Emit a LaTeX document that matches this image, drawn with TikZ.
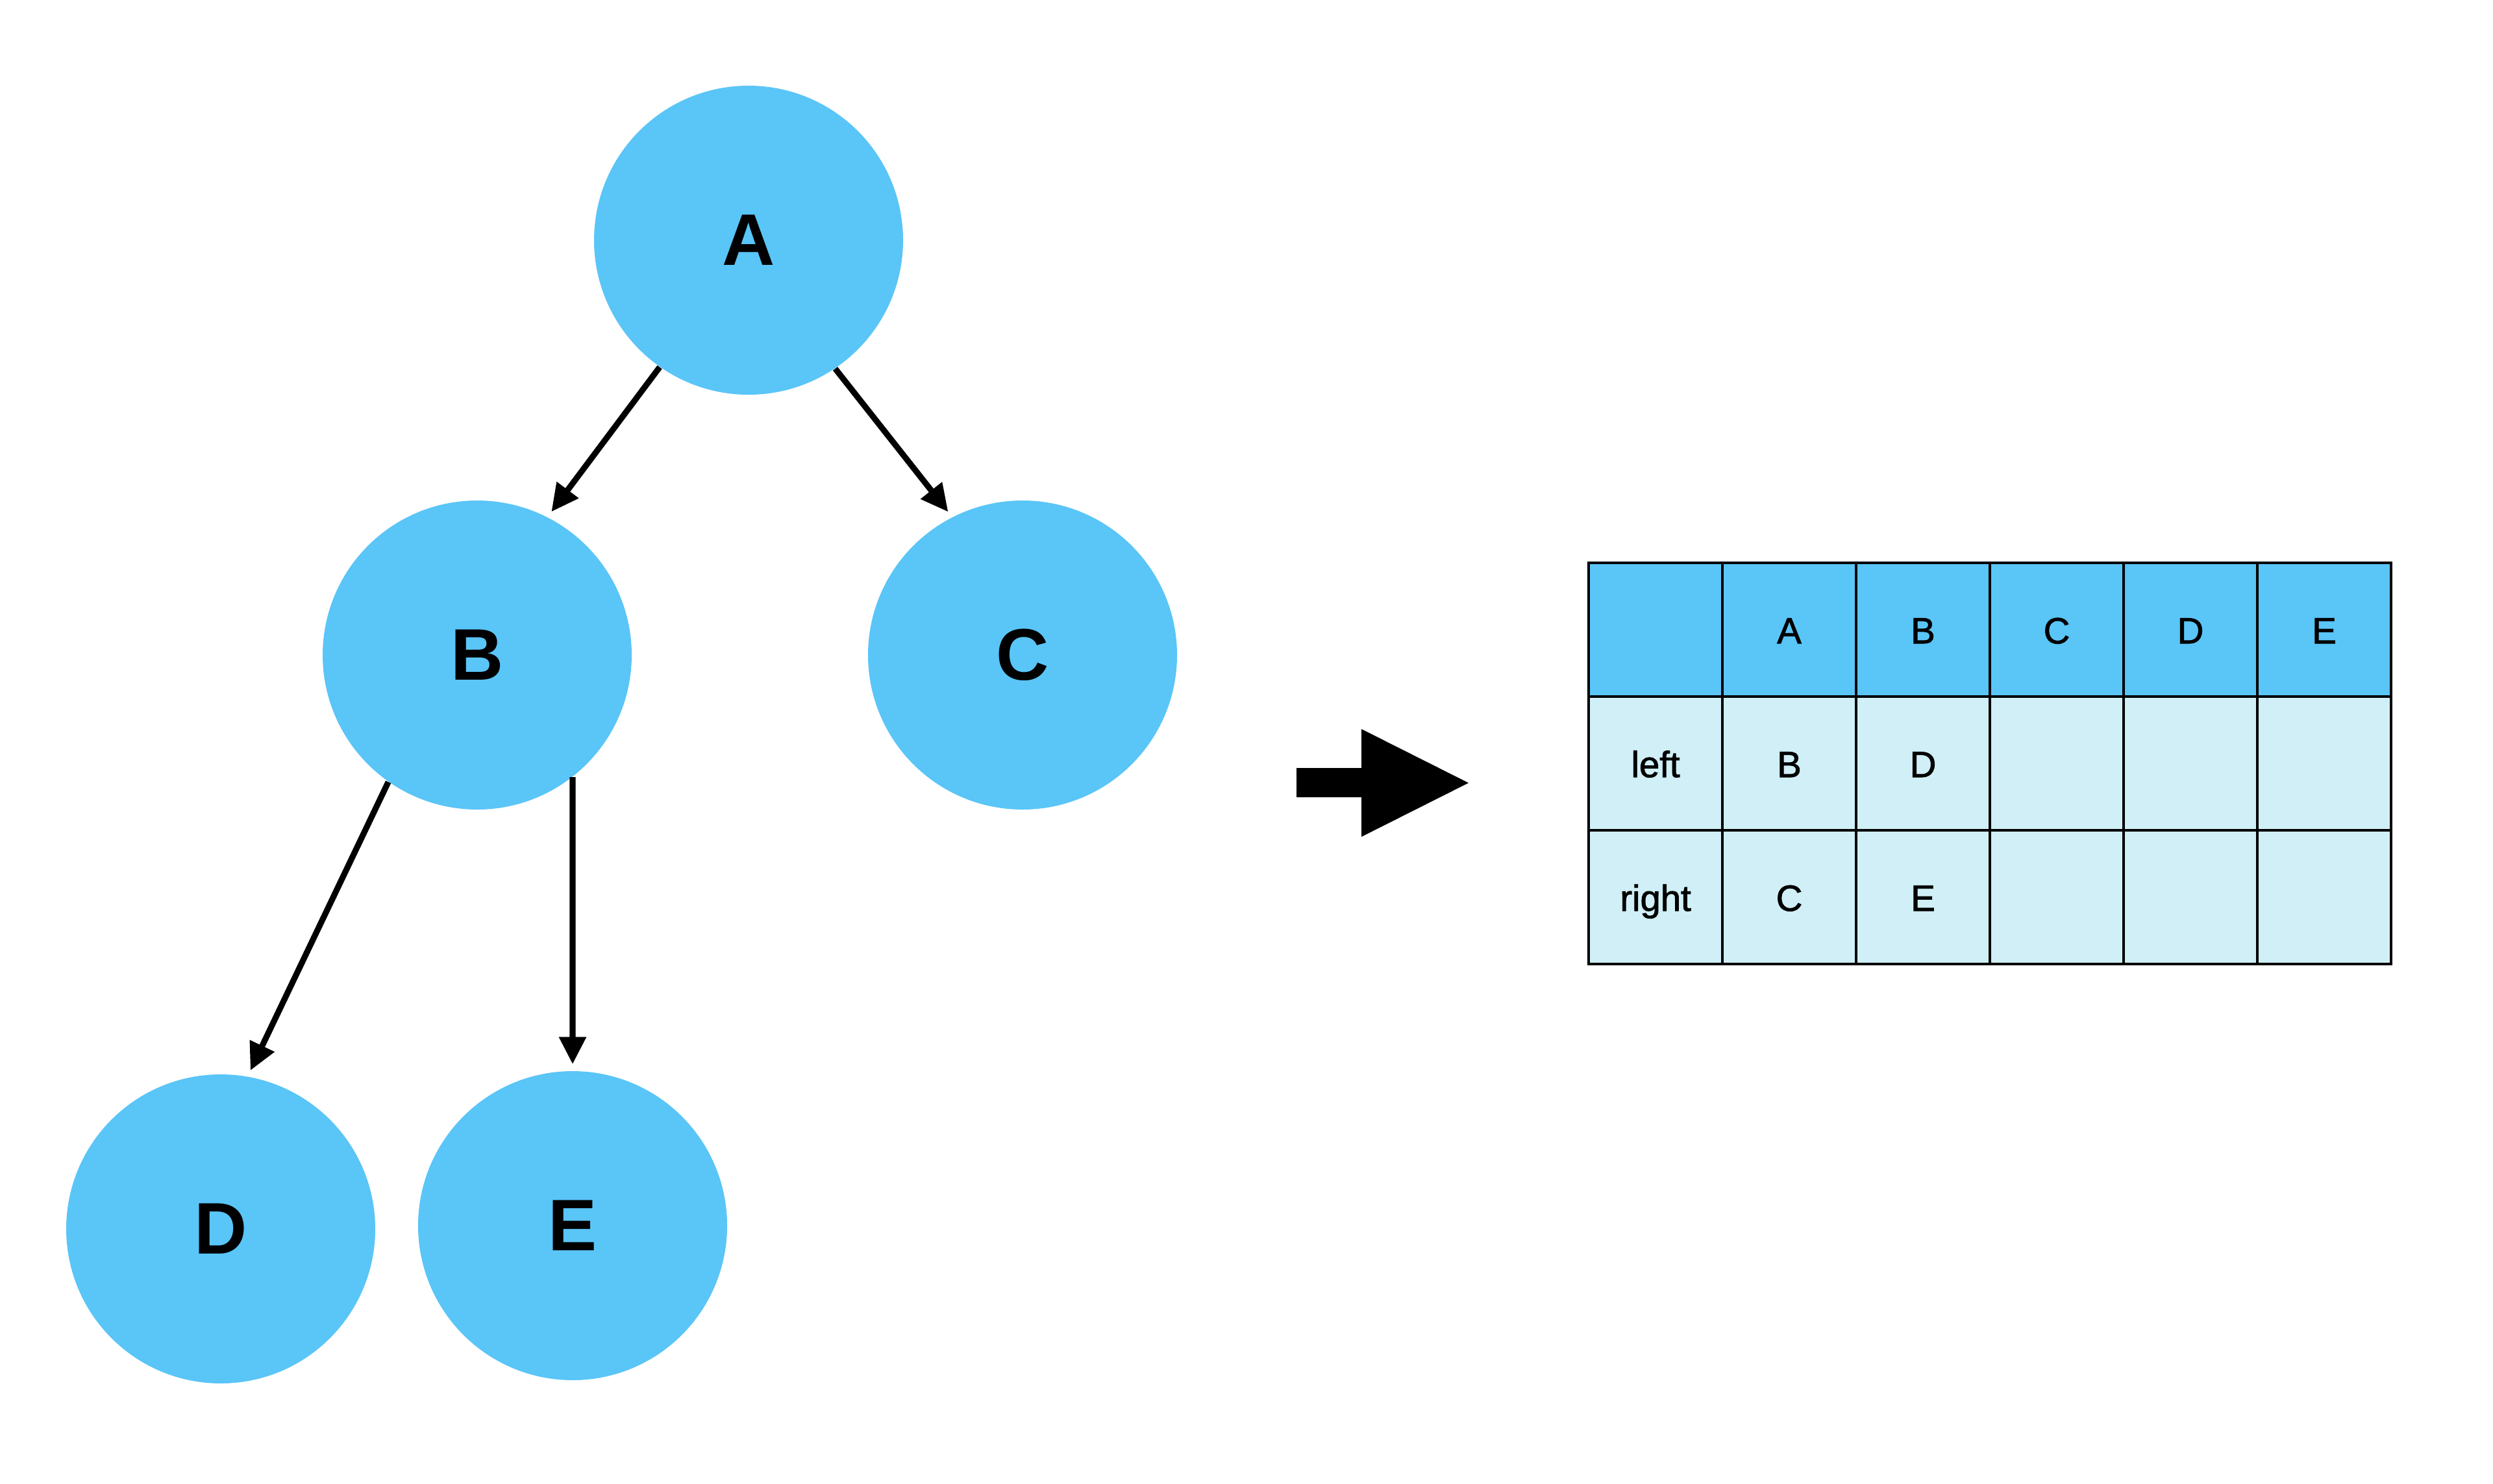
\documentclass[tikz,border=0pt]{standalone}
\usepackage{fontspec}
\setmainfont{Liberation Sans}
\newfontfamily\cellfont[FakeBold=1.6]{Liberation Sans}
\usetikzlibrary{arrows.meta,positioning}
\definecolor{nodeblue}{HTML}{5AC5F7}
\definecolor{cellblue}{HTML}{D0EFF6}

\begin{document}
\begin{tikzpicture}[
  vertex/.style={circle, fill=nodeblue, minimum size=4.76cm, inner sep=0pt,
                 font=\fontsize{32}{38}\selectfont\bfseries},
  edge/.style={-{Triangle[length=0.42cm, width=0.4cm]}, line width=2.6pt, shorten >=0.1cm},
  head/.style={draw, line width=1pt, fill=nodeblue, minimum width=2.06cm, minimum height=2.06cm,
               inner sep=0pt, outer sep=0pt, text height=1.2em, text depth=0pt,
               font=\cellfont\fontsize{16}{19}\selectfont},
  cell/.style={head, fill=cellblue},
  node distance=0pt
]
  \useasboundingbox (0,0) rectangle (38.4,-22.85);

  % binary tree
  \node[vertex] (a) at (11.53,-3.70) {A};
  \node[vertex] (b) at (7.35,-10.09) {B};
  \node[vertex] (c) at (15.75,-10.09) {C};
  \node[vertex] (d) at (3.40,-18.93) {D};
  \node[vertex] (e) at (8.82,-18.88) {E};

  \draw[edge] (a.235.5) -- (b.63.4);
  \draw[edge] (a.304.2) -- (c.117.3);
  \draw[edge] (b.235.9) -- (d.80.6);
  \draw[edge] (b.308.4) -- (e.north);

  % big arrow
  \fill (19.97,-11.83) -- (20.97,-11.83) -- (20.97,-11.23) -- (22.62,-12.06)
        -- (20.97,-12.89) -- (20.97,-12.28) -- (19.97,-12.28) -- cycle;

  % table
  \node[head] (h0) at (25.50,-9.70) {};
  \node[head, right=of h0] (h1) {A};
  \node[head, right=of h1] (h2) {B};
  \node[head, right=of h2] (h3) {C};
  \node[head, right=of h3] (h4) {D};
  \node[head, right=of h4] (h5) {E};

  \node[cell, below=of h0] (l0) {left};
  \node[cell, right=of l0] (l1) {B};
  \node[cell, right=of l1] (l2) {D};
  \node[cell, right=of l2] (l3) {};
  \node[cell, right=of l3] (l4) {};
  \node[cell, right=of l4] (l5) {};

  \node[cell, below=of l0] (r0) {right};
  \node[cell, right=of r0] (r1) {C};
  \node[cell, right=of r1] (r2) {E};
  \node[cell, right=of r2] (r3) {};
  \node[cell, right=of r3] (r4) {};
  \node[cell, right=of r4] (r5) {};
\end{tikzpicture}
\end{document}
